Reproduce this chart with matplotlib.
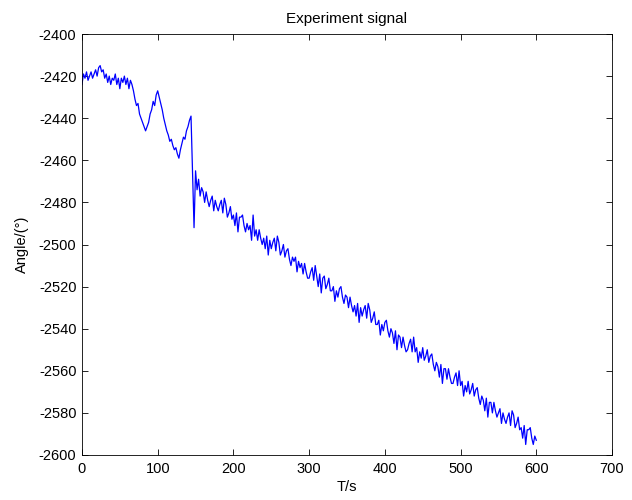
import numpy as np
import matplotlib
matplotlib.use("Agg")
import matplotlib.pyplot as plt

# angle readings (deg), every 2 s
angle_start = [
    -2424, -2419, -2421, -2418, -2422, -2420, -2418, -2421, -2419, -2417,
    -2420, -2416, -2415, -2418, -2417, -2421, -2419, -2423, -2420, -2424,
    -2421, -2422, -2419, -2424, -2421, -2426, -2421, -2423, -2420, -2424,
    -2421, -2426, -2422, -2424, -2427, -2431, -2434, -2433, -2438, -2440,
    -2442, -2444, -2446, -2444, -2442, -2438, -2436, -2432, -2434, -2429,
    -2427, -2430, -2433, -2436, -2440, -2443, -2446, -2448, -2451, -2450,
    -2453, -2455, -2454, -2457, -2459, -2455, -2452, -2449, -2450, -2446,
    -2444, -2441, -2439, -2466, -2492,
]
angle_drift = [
    -2465, -2474, -2469, -2477, -2473,
    -2475, -2480, -2475, -2479, -2482,
    -2479, -2477, -2484, -2479, -2482,
    -2484, -2481, -2479, -2485, -2478,
    -2481, -2487, -2485, -2482, -2488,
    -2486, -2491, -2485, -2494, -2487,
    -2487, -2486, -2491, -2494, -2490,
    -2493, -2491, -2498, -2486, -2496,
    -2493, -2498, -2493, -2497, -2500,
    -2497, -2502, -2496, -2505, -2498,
    -2502, -2499, -2497, -2503, -2496,
    -2499, -2505, -2503, -2500, -2506,
    -2503, -2502, -2507, -2510, -2506,
    -2508, -2506, -2513, -2508, -2511,
    -2509, -2514, -2509, -2513, -2516,
    -2516, -2513, -2511, -2517, -2510,
    -2515, -2520, -2514, -2523, -2516,
    -2515, -2521, -2519, -2516, -2522,
    -2522, -2520, -2527, -2522, -2525,
    -2521, -2520, -2525, -2528, -2524,
    -2525, -2530, -2525, -2529, -2532,
    -2529, -2534, -2528, -2537, -2530,
    -2534, -2531, -2529, -2535, -2528,
    -2531, -2537, -2535, -2532, -2538,
    -2538, -2536, -2543, -2538, -2541,
    -2537, -2536, -2541, -2544, -2540,
    -2542, -2547, -2541, -2550, -2543,
    -2544, -2549, -2544, -2548, -2551,
    -2550, -2547, -2545, -2551, -2544,
    -2551, -2549, -2556, -2551, -2554,
    -2549, -2555, -2553, -2550, -2556,
    -2553, -2552, -2557, -2560, -2556,
    -2558, -2563, -2557, -2566, -2559,
    -2559, -2564, -2559, -2563, -2566,
    -2566, -2563, -2561, -2567, -2560,
    -2567, -2565, -2572, -2567, -2570,
    -2565, -2571, -2569, -2566, -2572,
    -2569, -2568, -2573, -2576, -2572,
    -2574, -2579, -2573, -2582, -2575,
    -2575, -2580, -2575, -2579, -2582,
    -2580, -2578, -2585, -2580, -2583,
    -2585, -2582, -2580, -2586, -2579,
    -2581, -2587, -2585, -2582, -2588,
    -2587, -2592, -2586, -2595, -2588,
    -2588, -2587, -2592, -2595, -2591,
    -2593,
]
angle = angle_start + angle_drift
t = np.arange(len(angle)) * 2

plt.rcParams['font.family'] = ['Liberation Sans', 'DejaVu Sans']
plt.rcParams['font.size'] = 10.5
plt.rcParams['axes.unicode_minus'] = False

fig = plt.figure(figsize=(6.32, 5.0), dpi=100)
ax = fig.add_axes([0.1297, 0.09, 0.8387, 0.842])
ax.plot(t, angle, color='#0000ff', linewidth=0.9)

ax.set_xlim(0, 700)
ax.set_ylim(-2600, -2400)
ax.set_xticks(np.arange(0, 701, 100))
ax.set_yticks(np.arange(-2600, -2399, 20))
ax.tick_params(direction='in', top=True, right=True, length=4, width=0.6)
ax.tick_params(axis='y', pad=4)
ax.tick_params(axis='x', pad=5)
for s in ax.spines.values():
    s.set_linewidth(0.6)

ax.set_title('Experiment signal', fontsize=11, pad=8)
ax.set_xlabel('T/s', labelpad=3)
ax.set_ylabel('Angle/(°)', labelpad=7)

fig.savefig('out.png', dpi=100)
